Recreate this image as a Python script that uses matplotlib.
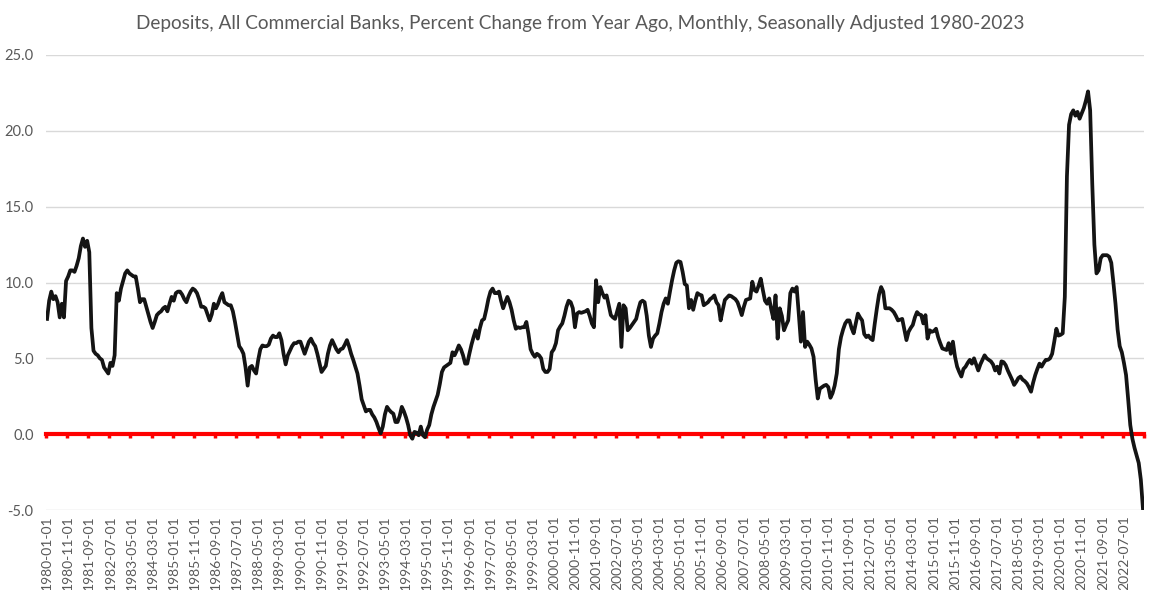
import numpy as np
import pandas as pd
import matplotlib
matplotlib.use("Agg")
import matplotlib.pyplot as plt

title = ("Deposits, All Commercial Banks, Percent Change from Year Ago, Monthly, "
         "Seasonally Adjusted 1980-2023")

# Monthly values (percent change from year ago)
y1980 = [7.6, 8.8, 9.4, 8.9, 9.1, 8.7, 7.7, 8.6, 7.7, 10.1, 10.4, 10.8]
y1981 = [10.8, 10.7, 11.1, 11.6, 12.4, 12.9, 12.35, 12.75, 12.0, 7.0, 5.5, 5.3]
y1982 = [5.2, 5.0, 4.9, 4.4, 4.2, 4.0, 4.7, 4.5, 5.2, 9.3, 8.8, 9.6]
y1983 = [10.1, 10.6, 10.8, 10.6, 10.5, 10.4, 10.4, 9.6, 8.7, 8.9, 8.9, 8.4]
y1984 = [7.9, 7.4, 7.0, 7.4, 7.85, 8.0, 8.1, 8.3, 8.4, 8.1, 8.6, 9.05]
y1985 = [8.8, 9.3, 9.4, 9.4, 9.2, 8.9, 8.7, 9.1, 9.4, 9.6, 9.5, 9.3]
y1986 = [8.9, 8.4, 8.4, 8.3, 7.9, 7.5, 7.9, 8.6, 8.3, 8.6, 9.0, 9.3]
y1987 = [8.7, 8.6, 8.5, 8.5, 8.1, 7.4, 6.6, 5.8, 5.6, 5.3, 4.4, 3.2]
y1988 = [4.4, 4.5, 4.2, 4.0, 4.9, 5.6, 5.85, 5.8, 5.8, 5.9, 6.3, 6.5]
y1989 = [6.4, 6.4, 6.65, 6.2, 5.3, 4.6, 5.2, 5.5, 5.8, 6.0, 6.0, 6.1]
y1990 = [6.1, 5.7, 5.3, 5.7, 6.1, 6.3, 6.0, 5.8, 5.3, 4.7, 4.1, 4.3]
y1991 = [4.5, 5.3, 5.85, 6.2, 5.9, 5.6, 5.4, 5.6, 5.65, 5.9, 6.2, 5.8]
y1992 = [5.3, 4.9, 4.45, 4.0, 3.2, 2.3, 1.9, 1.5, 1.6, 1.6, 1.3, 1.1]
y1993 = [0.8, 0.4, 0.05, 0.5, 1.3, 1.8, 1.6, 1.45, 1.35, 0.8, 0.8, 1.2]
y1994 = [1.8, 1.5, 1.1, 0.6, -0.07, -0.3, 0.15, 0.1, -0.07, 0.5, -0.07, -0.2]
y1995 = [0.3, 0.6, 1.3, 1.8, 2.2, 2.6, 3.3, 4.1, 4.4, 4.5, 4.6, 4.7]
y1996 = [5.4, 5.2, 5.5, 5.85, 5.6, 5.2, 4.65, 4.65, 5.3, 5.9, 6.4, 6.85]
y1997 = [6.3, 7.0, 7.5, 7.6, 8.2, 8.9, 9.4, 9.6, 9.3, 9.3, 9.4, 8.8]
y1998 = [8.3, 8.7, 9.05, 8.7, 8.2, 7.5, 6.95, 7.05, 7.0, 7.05, 7.05, 7.4]
y1999 = [6.6, 5.6, 5.3, 5.1, 5.3, 5.2, 5.0, 4.3, 4.1, 4.1, 4.3, 5.4]
y2000 = [5.6, 6.0, 6.85, 7.1, 7.3, 7.8, 8.4, 8.8, 8.7, 8.3, 7.05, 7.95]
y2001 = [8.05, 8.0, 8.05, 8.1, 8.2, 7.8, 7.3, 7.05, 10.15, 8.7, 9.7, 9.3]
y2002 = [9.0, 9.15, 8.5, 7.85, 7.7, 7.6, 8.1, 8.6, 5.75, 8.5, 8.3, 6.85]
y2003 = [7.0, 7.2, 7.4, 7.6, 8.2, 8.7, 8.8, 8.7, 7.8, 6.5, 5.75, 6.3]
y2004 = [6.5, 6.65, 7.3, 8.05, 8.6, 8.95, 8.6, 9.4, 10.15, 10.8, 11.3, 11.4]
y2005 = [11.35, 10.7, 9.9, 9.8, 8.3, 8.85, 8.2, 8.8, 9.3, 9.2, 9.15, 8.5]
y2006 = [8.6, 8.7, 8.9, 9.0, 9.15, 8.7, 8.5, 7.5, 8.2, 8.85, 9.0, 9.15]
y2007 = [9.1, 9.0, 8.9, 8.7, 8.3, 7.85, 8.4, 8.85, 8.9, 8.95, 10.05, 9.5]
y2008 = [9.4, 9.8, 10.25, 9.5, 8.8, 8.6, 8.95, 8.2, 7.6, 9.15, 6.3, 8.3]
y2009 = [7.8, 6.85, 7.2, 7.5, 9.3, 9.6, 9.4, 9.7, 7.95, 6.1, 8.05, 5.75]
y2010 = [6.1, 5.9, 5.65, 5.1, 3.6, 2.35, 3.0, 3.1, 3.2, 3.25, 3.1, 2.4]
y2011 = [2.7, 3.2, 4.0, 5.6, 6.4, 6.9, 7.3, 7.5, 7.5, 7.0, 6.65, 7.3]
y2012 = [7.95, 7.7, 7.5, 6.6, 6.4, 6.5, 6.3, 6.2, 7.3, 8.3, 9.2, 9.7]
y2013 = [9.4, 8.3, 8.3, 8.3, 8.2, 8.05, 7.8, 7.5, 7.55, 7.6, 6.9, 6.2]
y2014 = [6.75, 7.0, 7.2, 7.7, 8.05, 7.9, 7.85, 7.3, 7.85, 6.3, 6.85, 6.75]
y2015 = [6.8, 6.95, 6.4, 6.0, 5.65, 5.6, 5.55, 6.0, 5.3, 6.1, 5.1, 4.45]
y2016 = [4.1, 3.8, 4.3, 4.45, 4.7, 4.9, 4.65, 5.0, 4.6, 4.2, 4.6, 4.9]
y2017 = [5.2, 5.0, 4.9, 4.8, 4.6, 4.2, 4.45, 4.0, 4.8, 4.75, 4.55, 4.2]
y2018 = [3.9, 3.6, 3.25, 3.45, 3.7, 3.8, 3.6, 3.5, 3.35, 3.1, 2.8, 3.4]
y2019 = [3.9, 4.3, 4.65, 4.45, 4.7, 4.9, 4.9, 5.0, 5.3, 6.1, 6.95, 6.5]
y2020 = [6.55, 6.65, 9.05, 17.0, 20.4, 21.1, 21.35, 21.0, 21.25, 20.8, 21.15, 21.5]
y2021 = [22.0, 22.6, 21.35, 16.5, 12.5, 10.6, 10.8, 11.6, 11.8, 11.8, 11.8, 11.7]
y2022 = [11.3, 10.0, 8.6, 6.9, 5.8, 5.4, 4.7, 3.9, 2.3, 0.6, -0.3, -0.9]
y2023 = [-1.4, -1.9, -3.0, -4.9]

values = (y1980 + y1981 + y1982 + y1983 + y1984 + y1985 + y1986 + y1987 + y1988
          + y1989 + y1990 + y1991 + y1992 + y1993 + y1994 + y1995 + y1996 + y1997
          + y1998 + y1999 + y2000 + y2001 + y2002 + y2003 + y2004 + y2005 + y2006
          + y2007 + y2008 + y2009 + y2010 + y2011 + y2012 + y2013 + y2014 + y2015
          + y2016 + y2017 + y2018 + y2019 + y2020 + y2021 + y2022 + y2023)

dates = pd.date_range("1980-01-01", periods=len(values), freq="MS")
categories = [d.strftime("%Y-%m-%d") for d in dates]
label_step = 10
y_ticks = [-5, 0, 5, 10, 15, 20, 25]

plt.rcParams['font.family'] = ['Lato', 'DejaVu Sans']

W, H = 1160, 590
fig = plt.figure(figsize=(W / 100, H / 100), dpi=100)
left_px, right_px, top_px, bot_px = 46, 1144, 55, 510
ax = fig.add_axes([left_px / W, 1 - bot_px / H, (right_px - left_px) / W, (bot_px - top_px) / H])

x = np.arange(len(values))
ax.plot(x, values, color='#141414', lw=2.7, solid_joinstyle='round', zorder=3)

ax.set_xlim(-0.5, len(values) - 0.5)
ax.set_ylim(y_ticks[0], y_ticks[-1])
ax.set_yticks(y_ticks, [f"{v:.1f}" for v in y_ticks])
ax.yaxis.grid(True, color='#d9d9d9', lw=1.0)
ax.set_axisbelow(True)
for s in ax.spines.values():
    s.set_visible(False)
ax.tick_params(axis='y', length=0, pad=9, labelsize=10.5, labelcolor='#595959')
ax.set_xticks(x[::label_step], categories[::label_step], rotation=90)
ax.tick_params(axis='x', length=0, pad=4, labelsize=10, labelcolor='#595959')

# red zero axis with tick marks at category boundaries
zero_frac = (0 - y_ticks[0]) / (y_ticks[-1] - y_ticks[0])
sec = ax.secondary_xaxis(zero_frac)
sec.set_zorder(2)
sec.spines['bottom'].set_color('#ff0000')
sec.spines['bottom'].set_linewidth(3)
sec.set_xticks(np.arange(-0.5, len(values), label_step))
sec.tick_params(axis='x', colors='#ff0000', length=3, width=2.5, direction='out',
                labelbottom=False, labeltop=False)

fig.text(0.5, 1 - 24 / H, title, ha='center', va='center', fontsize=13.7, color='#595959')

fig.savefig("out.png", dpi=100)
